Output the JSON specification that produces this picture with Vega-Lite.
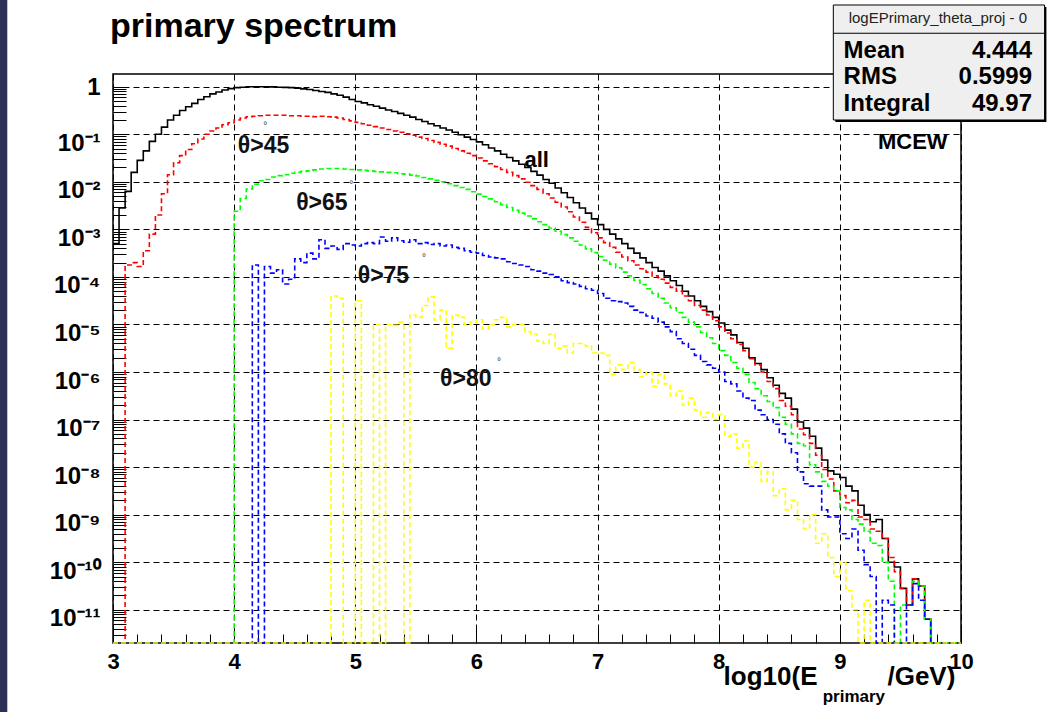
{
  "$schema": "https://vega.github.io/schema/vega-lite/v6.json",
  "autosize": "none",
  "width": 848,
  "height": 569,
  "padding": {"left": 113, "top": 74, "right": 93, "bottom": 69},
  "background": "white",
  "config": {
    "view": {"stroke": "black", "strokeWidth": 1.5},
    "axis": {"labelOverlap": false, "labelFlush": false, "labelBound": false, "labelFont": "Liberation Sans", "labelFontWeight": "bold", "labelColor": "black", "domain": false, "tickColor": "black", "tickWidth": 1, "gridColor": "black", "gridDash": [6, 4], "gridWidth": 1, "title": null}
  },
  "resolve": {"axis": {"x": "independent", "y": "independent"}},
  "datasets": {
    "all": [
      {"x":3.00,"v":5.0e-4},{"x":3.05,"v":2.82e-3},{"x":3.10,"v":6.3e-3},{"x":3.15,"v":1.58e-2},{"x":3.20,"v":2.82e-2},{"x":3.25,"v":4.47e-2},{"x":3.30,"v":7.08e-2},{"x":3.35,"v":0.1},{"x":3.40,"v":0.141},{"x":3.45,"v":0.2},{"x":3.50,"v":0.251},{"x":3.55,"v":0.316},{"x":3.60,"v":0.38},{"x":3.65,"v":0.447},{"x":3.70,"v":0.537},{"x":3.75,"v":0.617},{"x":3.80,"v":0.708},{"x":3.85,"v":0.776},{"x":3.90,"v":0.851},{"x":3.95,"v":0.912},
      {"x":4.00,"v":0.955},{"x":4.05,"v":0.977},{"x":4.10,"v":1.0},{"x":4.15,"v":1.0},{"x":4.20,"v":1.0},{"x":4.25,"v":0.995},{"x":4.30,"v":0.99},{"x":4.35,"v":0.977},{"x":4.40,"v":0.966},{"x":4.45,"v":0.955},{"x":4.50,"v":0.933},{"x":4.55,"v":0.902},{"x":4.60,"v":0.871},{"x":4.65,"v":0.832},{"x":4.70,"v":0.794},{"x":4.75,"v":0.759},{"x":4.80,"v":0.708},{"x":4.85,"v":0.661},{"x":4.90,"v":0.603},{"x":4.95,"v":0.537},
      {"x":5.00,"v":0.49},{"x":5.05,"v":0.457},{"x":5.10,"v":0.417},{"x":5.15,"v":0.389},{"x":5.20,"v":0.355},{"x":5.25,"v":0.324},{"x":5.30,"v":0.302},{"x":5.35,"v":0.275},{"x":5.40,"v":0.251},{"x":5.45,"v":0.229},{"x":5.50,"v":0.204},{"x":5.55,"v":0.186},{"x":5.60,"v":0.166},{"x":5.65,"v":0.151},{"x":5.70,"v":0.135},{"x":5.75,"v":0.123},{"x":5.80,"v":0.11},{"x":5.85,"v":0.0977},{"x":5.90,"v":0.0871},{"x":5.95,"v":0.0776},
      {"x":6.00,"v":0.0692},{"x":6.05,"v":0.0603},{"x":6.10,"v":0.0513},{"x":6.15,"v":0.0447},{"x":6.20,"v":0.038},{"x":6.25,"v":0.0324},{"x":6.30,"v":0.0275},{"x":6.35,"v":0.0234},{"x":6.40,"v":0.02},{"x":6.45,"v":0.0166},{"x":6.50,"v":0.0138},{"x":6.55,"v":0.0112},{"x":6.60,"v":0.00933},{"x":6.65,"v":0.00741},{"x":6.70,"v":0.00589},{"x":6.75,"v":0.00468},{"x":6.80,"v":0.00363},{"x":6.85,"v":0.00282},{"x":6.90,"v":0.00219},{"x":6.95,"v":0.00166},
      {"x":7.00,"v":0.00126},{"x":7.05,"v":0.001},{"x":7.10,"v":7.94e-4},{"x":7.15,"v":6.31e-4},{"x":7.20,"v":5.01e-4},{"x":7.25,"v":3.98e-4},{"x":7.30,"v":3.16e-4},{"x":7.35,"v":2.51e-4},{"x":7.40,"v":2.0e-4},{"x":7.45,"v":1.58e-4},{"x":7.50,"v":1.32e-4},{"x":7.55,"v":1.05e-4},{"x":7.60,"v":8.32e-5},{"x":7.65,"v":6.61e-5},{"x":7.70,"v":5.01e-5},{"x":7.75,"v":3.98e-5},{"x":7.80,"v":3.16e-5},{"x":7.85,"v":2.4e-5},{"x":7.90,"v":1.86e-5},{"x":7.95,"v":1.41e-5},
      {"x":8.00,"v":1.07e-5},{"x":8.05,"v":7.59e-6},{"x":8.10,"v":6.03e-6},{"x":8.15,"v":4.17e-6},{"x":8.20,"v":3.16e-6},{"x":8.25,"v":2.0e-6},{"x":8.30,"v":1.51e-6},{"x":8.35,"v":1.12e-6},{"x":8.40,"v":7.59e-7},{"x":8.45,"v":5.25e-7},{"x":8.50,"v":3.55e-7},{"x":8.55,"v":2.82e-7},{"x":8.60,"v":1.66e-7},{"x":8.65,"v":8.91e-8},{"x":8.70,"v":6.61e-8},{"x":8.75,"v":4.47e-8},{"x":8.80,"v":2.51e-8},{"x":8.85,"v":1.41e-8},{"x":8.90,"v":8.32e-9},{"x":8.95,"v":7.08e-9},
      {"x":9.00,"v":6.03e-9},{"x":9.05,"v":3.98e-9},{"x":9.10,"v":3.16e-9},{"x":9.15,"v":1.58e-9},{"x":9.20,"v":1.0e-9},{"x":9.25,"v":7.08e-10},{"x":9.30,"v":7.94e-10},{"x":9.35,"v":3.16e-10},{"x":9.40,"v":1.0e-10},{"x":9.45,"v":7.94e-11},{"x":9.50,"v":2.82e-11},{"x":9.55,"v":1.26e-11},{"x":9.60,"v":4.47e-11},{"x":9.65,"v":3.16e-11},{"x":9.70,"v":6.31e-12},{"x":9.75,"v":2e-12},{"x":10.0,"v":2e-12}
    ],
    "t45": [
      {"x":3.00,"v":2e-12},{"x":3.10,"v":1.78e-4},{"x":3.15,"v":2.0e-4},{"x":3.20,"v":1.66e-4},{"x":3.25,"v":3.55e-4},{"x":3.30,"v":7.94e-4},{"x":3.35,"v":2.0e-3},{"x":3.40,"v":5.62e-3},{"x":3.45,"v":1.41e-2},{"x":3.50,"v":2.51e-2},{"x":3.55,"v":3.55e-2},{"x":3.60,"v":4.79e-2},{"x":3.65,"v":6.31e-2},{"x":3.70,"v":7.94e-2},{"x":3.75,"v":0.1},{"x":3.80,"v":0.117},{"x":3.85,"v":0.135},{"x":3.90,"v":0.158},{"x":3.95,"v":0.174},
      {"x":4.00,"v":0.2},{"x":4.05,"v":0.219},{"x":4.10,"v":0.234},{"x":4.15,"v":0.24},{"x":4.20,"v":0.245},{"x":4.25,"v":0.251},{"x":4.30,"v":0.251},{"x":4.35,"v":0.251},{"x":4.40,"v":0.251},{"x":4.45,"v":0.245},{"x":4.50,"v":0.245},{"x":4.55,"v":0.24},{"x":4.60,"v":0.24},{"x":4.65,"v":0.234},{"x":4.70,"v":0.24},{"x":4.75,"v":0.234},{"x":4.80,"v":0.229},{"x":4.85,"v":0.219},{"x":4.90,"v":0.204},{"x":4.95,"v":0.191},
      {"x":5.00,"v":0.178},{"x":5.05,"v":0.166},{"x":5.10,"v":0.155},{"x":5.15,"v":0.145},{"x":5.20,"v":0.135},{"x":5.25,"v":0.126},{"x":5.30,"v":0.117},{"x":5.35,"v":0.11},{"x":5.40,"v":0.102},{"x":5.45,"v":0.0955},{"x":5.50,"v":0.0871},{"x":5.55,"v":0.0813},{"x":5.60,"v":0.0741},{"x":5.65,"v":0.0676},{"x":5.70,"v":0.0617},{"x":5.75,"v":0.0562},{"x":5.80,"v":0.0501},{"x":5.85,"v":0.0447},{"x":5.90,"v":0.0398},{"x":5.95,"v":0.0355},
      {"x":6.00,"v":0.0316},{"x":6.05,"v":0.0275},{"x":6.10,"v":0.024},{"x":6.15,"v":0.0209},{"x":6.20,"v":0.0182},{"x":6.25,"v":0.0158},{"x":6.30,"v":0.0135},{"x":6.35,"v":0.0115},{"x":6.40,"v":0.00977},{"x":6.45,"v":0.00832},{"x":6.50,"v":0.00692},{"x":6.55,"v":0.00562},{"x":6.60,"v":0.00457},{"x":6.65,"v":0.00372},{"x":6.70,"v":0.00295},{"x":6.75,"v":0.00234},{"x":6.80,"v":0.00182},{"x":6.85,"v":0.00141},{"x":6.90,"v":0.0011},{"x":6.95,"v":8.51e-4},
      {"x":7.00,"v":6.61e-4},{"x":7.05,"v":5.25e-4},{"x":7.10,"v":4.17e-4},{"x":7.15,"v":3.31e-4},{"x":7.20,"v":2.63e-4},{"x":7.25,"v":2.19e-4},{"x":7.30,"v":1.78e-4},{"x":7.35,"v":1.48e-4},{"x":7.40,"v":1.26e-4},{"x":7.45,"v":1.05e-4},{"x":7.50,"v":8.91e-5},{"x":7.55,"v":7.41e-5},{"x":7.60,"v":6.03e-5},{"x":7.65,"v":5.01e-5},{"x":7.70,"v":3.98e-5},{"x":7.75,"v":3.16e-5},{"x":7.80,"v":2.51e-5},{"x":7.85,"v":2.0e-5},{"x":7.90,"v":1.58e-5},{"x":7.95,"v":1.2e-5},
      {"x":8.00,"v":8.91e-6},{"x":8.05,"v":6.61e-6},{"x":8.10,"v":5.01e-6},{"x":8.15,"v":3.8e-6},{"x":8.20,"v":2.82e-6},{"x":8.25,"v":1.91e-6},{"x":8.30,"v":1.41e-6},{"x":8.35,"v":1.0e-6},{"x":8.40,"v":6.31e-7},{"x":8.45,"v":4.47e-7},{"x":8.50,"v":2.51e-7},{"x":8.55,"v":1.91e-7},{"x":8.60,"v":1.26e-7},{"x":8.65,"v":6.31e-8},{"x":8.70,"v":4.79e-8},{"x":8.75,"v":3.16e-8},{"x":8.80,"v":1.78e-8},{"x":8.85,"v":8.91e-9},{"x":8.90,"v":5.62e-9},{"x":8.95,"v":3.16e-9},
      {"x":9.00,"v":2.51e-9},{"x":9.05,"v":1.78e-9},{"x":9.10,"v":2.0e-9},{"x":9.15,"v":8.91e-10},{"x":9.20,"v":7.94e-10},{"x":9.25,"v":5.01e-10},{"x":9.30,"v":4.47e-10},{"x":9.35,"v":3.16e-10},{"x":9.40,"v":1.26e-10},{"x":9.45,"v":6.31e-11},{"x":9.50,"v":2.82e-11},{"x":9.55,"v":1.26e-11},{"x":9.60,"v":4.47e-11},{"x":9.65,"v":3.16e-11},{"x":9.70,"v":6.31e-12},{"x":9.75,"v":2e-12},{"x":10.0,"v":2e-12}
    ],
    "t65": [
      {"x":3.00,"v":2e-12},{"x":4.00,"v":2.4e-3},{"x":4.05,"v":4.47e-3},{"x":4.10,"v":7.08e-3},{"x":4.15,"v":8.91e-3},{"x":4.20,"v":1.05e-2},{"x":4.25,"v":1.12e-2},{"x":4.30,"v":1.26e-2},{"x":4.35,"v":1.35e-2},{"x":4.40,"v":1.41e-2},{"x":4.45,"v":1.51e-2},{"x":4.50,"v":1.58e-2},{"x":4.55,"v":1.66e-2},{"x":4.60,"v":1.7e-2},{"x":4.65,"v":1.78e-2},{"x":4.70,"v":1.86e-2},{"x":4.75,"v":1.91e-2},{"x":4.80,"v":1.91e-2},{"x":4.85,"v":1.91e-2},{"x":4.90,"v":1.86e-2},{"x":4.95,"v":1.82e-2},
      {"x":5.00,"v":1.78e-2},{"x":5.05,"v":1.74e-2},{"x":5.10,"v":1.7e-2},{"x":5.15,"v":1.66e-2},{"x":5.20,"v":1.62e-2},{"x":5.25,"v":1.58e-2},{"x":5.30,"v":1.55e-2},{"x":5.35,"v":1.48e-2},{"x":5.40,"v":1.45e-2},{"x":5.45,"v":1.38e-2},{"x":5.50,"v":1.32e-2},{"x":5.55,"v":1.23e-2},{"x":5.60,"v":1.15e-2},{"x":5.65,"v":1.07e-2},{"x":5.70,"v":1.0e-2},{"x":5.75,"v":9.12e-3},{"x":5.80,"v":8.32e-3},{"x":5.85,"v":7.59e-3},{"x":5.90,"v":6.92e-3},{"x":5.95,"v":6.17e-3},
      {"x":6.00,"v":5.5e-3},{"x":6.05,"v":4.9e-3},{"x":6.10,"v":4.37e-3},{"x":6.15,"v":3.8e-3},{"x":6.20,"v":3.31e-3},{"x":6.25,"v":2.88e-3},{"x":6.30,"v":2.51e-3},{"x":6.35,"v":2.19e-3},{"x":6.40,"v":1.91e-3},{"x":6.45,"v":1.66e-3},{"x":6.50,"v":1.45e-3},{"x":6.55,"v":1.26e-3},{"x":6.60,"v":1.07e-3},{"x":6.65,"v":9.12e-4},{"x":6.70,"v":7.76e-4},{"x":6.75,"v":6.61e-4},{"x":6.80,"v":5.62e-4},{"x":6.85,"v":4.68e-4},{"x":6.90,"v":3.89e-4},{"x":6.95,"v":3.24e-4},
      {"x":7.00,"v":2.69e-4},{"x":7.05,"v":2.24e-4},{"x":7.10,"v":1.86e-4},{"x":7.15,"v":1.55e-4},{"x":7.20,"v":1.26e-4},{"x":7.25,"v":1.05e-4},{"x":7.30,"v":8.51e-5},{"x":7.35,"v":6.92e-5},{"x":7.40,"v":5.62e-5},{"x":7.45,"v":4.47e-5},{"x":7.50,"v":3.55e-5},{"x":7.55,"v":2.82e-5},{"x":7.60,"v":2.24e-5},{"x":7.65,"v":1.78e-5},{"x":7.70,"v":1.41e-5},{"x":7.75,"v":1.12e-5},{"x":7.80,"v":8.91e-6},{"x":7.85,"v":6.76e-6},{"x":7.90,"v":5.25e-6},{"x":7.95,"v":3.98e-6},
      {"x":8.00,"v":2.82e-6},{"x":8.05,"v":2.24e-6},{"x":8.10,"v":1.58e-6},{"x":8.15,"v":1.2e-6},{"x":8.20,"v":8.91e-7},{"x":8.25,"v":6.03e-7},{"x":8.30,"v":4.47e-7},{"x":8.35,"v":3.16e-7},{"x":8.40,"v":2.4e-7},{"x":8.45,"v":1.78e-7},{"x":8.50,"v":1.12e-7},{"x":8.55,"v":7.94e-8},{"x":8.60,"v":5.01e-8},{"x":8.65,"v":3.16e-8},{"x":8.70,"v":2.82e-8},{"x":8.75,"v":1.12e-8},{"x":8.80,"v":7.94e-9},{"x":8.85,"v":5.01e-9},{"x":8.90,"v":3.98e-9},{"x":8.95,"v":3.16e-9},
      {"x":9.00,"v":1.41e-9},{"x":9.05,"v":1.26e-9},{"x":9.10,"v":7.94e-10},{"x":9.15,"v":6.31e-10},{"x":9.20,"v":4.47e-10},{"x":9.25,"v":2.51e-10},{"x":9.30,"v":2.24e-10},{"x":9.35,"v":1.0e-10},{"x":9.40,"v":3.98e-11},{"x":9.45,"v":2e-12},{"x":9.50,"v":1.26e-11},{"x":9.55,"v":1.26e-11},{"x":9.60,"v":3.98e-11},{"x":9.65,"v":3.16e-11},{"x":9.70,"v":6.31e-12},{"x":9.75,"v":2e-12},{"x":10.0,"v":2e-12}
    ],
    "t75": [
      {"x":3.00,"v":2e-12},{"x":4.15,"v":1.78e-4},{"x":4.20,"v":2e-12},{"x":4.25,"v":1.66e-4},{"x":4.30,"v":1.2e-4},{"x":4.35,"v":1.41e-4},{"x":4.40,"v":7.08e-5},{"x":4.45,"v":8.91e-5},{"x":4.50,"v":2.4e-4},{"x":4.55,"v":2.0e-4},{"x":4.60,"v":3.16e-4},{"x":4.65,"v":2.4e-4},{"x":4.70,"v":6.03e-4},{"x":4.75,"v":3.98e-4},{"x":4.80,"v":4.47e-4},{"x":4.85,"v":3.8e-4},{"x":4.90,"v":5.01e-4},{"x":4.95,"v":4.68e-4},
      {"x":5.00,"v":4.47e-4},{"x":5.05,"v":5.01e-4},{"x":5.10,"v":5.25e-4},{"x":5.15,"v":5.01e-4},{"x":5.20,"v":6.92e-4},{"x":5.25,"v":5.62e-4},{"x":5.30,"v":6.61e-4},{"x":5.35,"v":5.75e-4},{"x":5.40,"v":5.37e-4},{"x":5.45,"v":6.03e-4},{"x":5.50,"v":5.01e-4},{"x":5.55,"v":5.25e-4},{"x":5.60,"v":4.79e-4},{"x":5.65,"v":5.01e-4},{"x":5.70,"v":4.47e-4},{"x":5.75,"v":4.68e-4},{"x":5.80,"v":4.17e-4},{"x":5.85,"v":3.98e-4},{"x":5.90,"v":3.55e-4},{"x":5.95,"v":3.31e-4},
      {"x":6.00,"v":3.16e-4},{"x":6.05,"v":2.82e-4},{"x":6.10,"v":2.63e-4},{"x":6.15,"v":2.51e-4},{"x":6.20,"v":2.4e-4},{"x":6.25,"v":2.09e-4},{"x":6.30,"v":1.91e-4},{"x":6.35,"v":1.78e-4},{"x":6.40,"v":1.66e-4},{"x":6.45,"v":1.41e-4},{"x":6.50,"v":1.32e-4},{"x":6.55,"v":1.2e-4},{"x":6.60,"v":1.12e-4},{"x":6.65,"v":1.0e-4},{"x":6.70,"v":8.32e-5},{"x":6.75,"v":7.59e-5},{"x":6.80,"v":7.08e-5},{"x":6.85,"v":6.31e-5},{"x":6.90,"v":5.62e-5},{"x":6.95,"v":5.25e-5},
      {"x":7.00,"v":4.47e-5},{"x":7.05,"v":3.55e-5},{"x":7.10,"v":3.16e-5},{"x":7.15,"v":3.02e-5},{"x":7.20,"v":2.82e-5},{"x":7.25,"v":2.4e-5},{"x":7.30,"v":2.0e-5},{"x":7.35,"v":1.78e-5},{"x":7.40,"v":1.51e-5},{"x":7.45,"v":1.35e-5},{"x":7.50,"v":1.12e-5},{"x":7.55,"v":8.91e-6},{"x":7.60,"v":7.08e-6},{"x":7.65,"v":5.01e-6},{"x":7.70,"v":3.98e-6},{"x":7.75,"v":3.02e-6},{"x":7.80,"v":2.24e-6},{"x":7.85,"v":1.66e-6},{"x":7.90,"v":1.41e-6},{"x":7.95,"v":1.2e-6},
      {"x":8.00,"v":1.0e-6},{"x":8.05,"v":6.31e-7},{"x":8.10,"v":5.62e-7},{"x":8.15,"v":3.98e-7},{"x":8.20,"v":2.82e-7},{"x":8.25,"v":2.51e-7},{"x":8.30,"v":1.58e-7},{"x":8.35,"v":1.26e-7},{"x":8.40,"v":1.0e-7},{"x":8.45,"v":7.94e-8},{"x":8.50,"v":5.01e-8},{"x":8.55,"v":3.16e-8},{"x":8.60,"v":2.0e-8},{"x":8.65,"v":7.94e-9},{"x":8.70,"v":4.47e-9},{"x":8.75,"v":3.98e-9},{"x":8.80,"v":3.98e-9},{"x":8.85,"v":1.26e-9},{"x":8.90,"v":8.91e-10},{"x":8.95,"v":8.91e-10},
      {"x":9.00,"v":3.98e-10},{"x":9.05,"v":3.16e-10},{"x":9.10,"v":5.01e-10},{"x":9.15,"v":1.78e-10},{"x":9.20,"v":8.91e-11},{"x":9.25,"v":5.01e-11},{"x":9.30,"v":2e-12},{"x":9.35,"v":1.58e-11},{"x":9.40,"v":1.26e-11},{"x":9.45,"v":2e-12},{"x":9.55,"v":1.26e-11},{"x":9.60,"v":3.55e-11},{"x":9.65,"v":1.58e-11},{"x":9.70,"v":6.31e-12},{"x":9.75,"v":2e-12},{"x":10.0,"v":2e-12}
    ],
    "t80": [
      {"x":3.00,"v":2e-12},{"x":4.80,"v":3.98e-5},{"x":4.85,"v":3.55e-5},{"x":4.90,"v":2e-12},{"x":5.00,"v":3.16e-5},{"x":5.05,"v":2e-12},{"x":5.15,"v":1.0e-5},{"x":5.20,"v":2e-12},{"x":5.25,"v":1.0e-5},{"x":5.30,"v":9.55e-6},{"x":5.35,"v":1.12e-5},{"x":5.40,"v":2e-12},{"x":5.45,"v":1.58e-5},{"x":5.50,"v":1.41e-5},{"x":5.55,"v":2.51e-5},{"x":5.60,"v":3.8e-5},{"x":5.65,"v":1.26e-5},{"x":5.70,"v":2.0e-5},{"x":5.75,"v":3.16e-6},{"x":5.80,"v":1.58e-5},{"x":5.85,"v":1.41e-5},{"x":5.90,"v":1.0e-5},{"x":5.95,"v":1.12e-5},
      {"x":6.00,"v":1.26e-5},{"x":6.05,"v":7.94e-6},{"x":6.10,"v":1.0e-5},{"x":6.15,"v":1.26e-5},{"x":6.20,"v":1.41e-5},{"x":6.25,"v":8.91e-6},{"x":6.30,"v":1.0e-5},{"x":6.35,"v":1.0e-5},{"x":6.40,"v":7.08e-6},{"x":6.45,"v":6.31e-6},{"x":6.50,"v":4.47e-6},{"x":6.55,"v":3.98e-6},{"x":6.60,"v":6.31e-6},{"x":6.65,"v":3.16e-6},{"x":6.70,"v":3.55e-6},{"x":6.75,"v":2.51e-6},{"x":6.80,"v":3.98e-6},{"x":6.85,"v":3.98e-6},{"x":6.90,"v":3.55e-6},{"x":6.95,"v":2.51e-6},
      {"x":7.00,"v":2.51e-6},{"x":7.05,"v":2.24e-6},{"x":7.10,"v":8.91e-7},{"x":7.15,"v":1.41e-6},{"x":7.20,"v":1.12e-6},{"x":7.25,"v":1.58e-6},{"x":7.30,"v":1.12e-6},{"x":7.35,"v":7.94e-7},{"x":7.40,"v":1.0e-6},{"x":7.45,"v":5.01e-7},{"x":7.50,"v":8.91e-7},{"x":7.55,"v":5.62e-7},{"x":7.60,"v":3.16e-7},{"x":7.65,"v":3.98e-7},{"x":7.70,"v":2.0e-7},{"x":7.75,"v":2.82e-7},{"x":7.80,"v":1.58e-7},{"x":7.85,"v":1.12e-7},{"x":7.90,"v":1.41e-7},{"x":7.95,"v":1.0e-7},
      {"x":8.00,"v":1.26e-7},{"x":8.05,"v":4.47e-8},{"x":8.10,"v":5.01e-8},{"x":8.15,"v":2.51e-8},{"x":8.20,"v":3.55e-8},{"x":8.25,"v":1.0e-8},{"x":8.30,"v":1.26e-8},{"x":8.35,"v":5.01e-9},{"x":8.40,"v":7.94e-9},{"x":8.45,"v":2.51e-9},{"x":8.50,"v":3.55e-9},{"x":8.55,"v":1.26e-9},{"x":8.60,"v":2.0e-9},{"x":8.65,"v":7.94e-10},{"x":8.70,"v":5.01e-10},{"x":8.75,"v":1.0e-9},{"x":8.80,"v":2.51e-10},{"x":8.85,"v":3.98e-10},{"x":8.90,"v":1.26e-10},{"x":8.95,"v":5.01e-11},
      {"x":9.00,"v":1.0e-10},{"x":9.05,"v":2.51e-11},{"x":9.10,"v":1.0e-11},{"x":9.15,"v":2e-12},{"x":9.20,"v":1.58e-11},{"x":9.25,"v":2e-12},{"x":10.0,"v":2e-12}
    ],
    "strip": [{"x1":2.05,"x2":2.1274,"y1":6.4e-14,"y2":73}],
    "title": [{"x":2.975,"y":11.1,"t":"primary spectrum"}],
    "thetas": [
      {"x":4.03,"y":0.058,"t":"θ>45"},
      {"x":4.512,"y":3.67e-3,"t":"θ>65"},
      {"x":5.02,"y":1.07e-4,"t":"θ>75"},
      {"x":5.70,"y":7.3e-7,"t":"θ>80"}
    ],
    "degrees": [
      {"x":4.24,"y":0.15,"t":"°"},
      {"x":4.95,"y":8.57e-3,"t":"°"},
      {"x":5.55,"y":2.5e-4,"t":"°"},
      {"x":6.17,"y":1.65e-6,"t":"°"}
    ],
    "tags": [
      {"x":6.498,"y":0.0287,"t":"all"},
      {"x":9.602,"y":0.0697,"t":"MCEW"}
    ],
    "xtitle": [
      {"x":8.04,"y":3.87e-13,"t":"log10(E"},
      {"x":9.393,"y":3.87e-13,"t":"/GeV)"}
    ],
    "xsub": [{"x":8.858,"y":1.47e-13,"t":"primary"}],
    "shadow": [{"x1":8.963,"x2":10.705,"y1":0.181,"y2":47.5}],
    "box": [{"x1":8.946,"x2":10.690,"y1":0.1995,"y2":52.3}],
    "sep": [{"x1":8.946,"x2":10.690,"y":13.3}],
    "boxtitle": [{"x":9.809,"y":27.4,"t":"logEPrimary_theta_proj - 0"}],
    "statnames": [
      {"x":9.031,"y":5.71,"t":"Mean"},
      {"x":9.031,"y":1.58,"t":"RMS"},
      {"x":9.031,"y":0.433,"t":"Integral"}
    ],
    "statvals": [
      {"x":10.586,"y":5.71,"t":"4.444"},
      {"x":10.586,"y":1.58,"t":"0.5999"},
      {"x":10.586,"y":0.433,"t":"49.97"}
    ]
  },
  "layer": [
    {
      "data": {"name": "all"},
      "mark": {"type": "line", "interpolate": "step-after", "stroke": "black", "strokeWidth": 1.6},
      "encoding": {
        "x": {
          "field": "x", "type": "quantitative", "title": null,
          "scale": {"domain": [3, 10], "nice": false, "zero": false},
          "axis": {
            "orient": "bottom",
            "values": [3, 4, 5, 6, 7, 8, 9, 10],
            "format": "d",
            "grid": true,
            "tickSize": -16,
            "labelPadding": 24,
            "labelFontSize": 22
          }
        },
        "y": {
          "field": "v", "type": "quantitative", "title": null,
          "scale": {"type": "log", "domain": [2e-12, 1.85], "nice": false},
          "axis": {
            "orient": "left",
            "values": [1e-11, 1e-10, 1e-9, 1e-8, 1e-7, 1e-6, 1e-5, 1e-4, 1e-3, 1e-2, 0.1, 1],
            "labelExpr": "round(log(datum.value)/LN10) == 0 ? '1' : '10⁻' + (-round(log(datum.value)/LN10) >= 10 ? '¹' + substring('⁰¹²³⁴⁵⁶⁷⁸⁹', -round(log(datum.value)/LN10) - 10, -round(log(datum.value)/LN10) - 9) : substring('⁰¹²³⁴⁵⁶⁷⁸⁹', -round(log(datum.value)/LN10), -round(log(datum.value)/LN10) + 1))",
            "grid": true,
            "tickSize": -13,
            "labelPadding": 26,
            "labelBaseline": "alphabetic",
            "labelOffset": {"condition": {"test": "datum.value > 0.5", "value": 8}, "value": 16},
            "labelFontSize": 24
          }
        }
      }
    },
    {
      "data": {"name": "t45"},
      "mark": {"type": "line", "interpolate": "step-after", "stroke": "#ff0000", "strokeWidth": 1.6, "strokeDash": [5, 3]},
      "encoding": {
        "x": {"field": "x", "type": "quantitative", "title": null,
          "axis": {"orient": "bottom", "values": [3.2,3.4,3.6,3.8,4.2,4.4,4.6,4.8,5.2,5.4,5.6,5.8,6.2,6.4,6.6,6.8,7.2,7.4,7.6,7.8,8.2,8.4,8.6,8.8,9.2,9.4,9.6,9.8], "labels": false, "grid": false, "tickSize": -9}},
        "y": {"field": "v", "type": "quantitative", "title": null,
          "axis": {"orient": "left", "values": [3e-12,4e-12,5e-12,6e-12,7e-12,8e-12,9e-12,
              2e-11,3e-11,4e-11,5e-11,6e-11,7e-11,8e-11,9e-11,
              2e-10,3e-10,4e-10,5e-10,6e-10,7e-10,8e-10,9e-10,
              2e-9,3e-9,4e-9,5e-9,6e-9,7e-9,8e-9,9e-9,
              2e-8,3e-8,4e-8,5e-8,6e-8,7e-8,8e-8,9e-8,
              2e-7,3e-7,4e-7,5e-7,6e-7,7e-7,8e-7,9e-7,
              2e-6,3e-6,4e-6,5e-6,6e-6,7e-6,8e-6,9e-6,
              2e-5,3e-5,4e-5,5e-5,6e-5,7e-5,8e-5,9e-5,
              2e-4,3e-4,4e-4,5e-4,6e-4,7e-4,8e-4,9e-4,
              2e-3,3e-3,4e-3,5e-3,6e-3,7e-3,8e-3,9e-3,
              2e-2,3e-2,4e-2,5e-2,6e-2,7e-2,8e-2,9e-2,
              0.2,0.3,0.4,0.5,0.6,0.7,0.8,0.9], "labels": false, "grid": false, "tickSize": -13}}
      }
    },
    {
      "data": {"name": "t65"},
      "mark": {"type": "line", "interpolate": "step-after", "stroke": "#00ff00", "strokeWidth": 1.6, "strokeDash": [5, 3]},
      "encoding": {"x": {"field": "x", "type": "quantitative", "axis": null}, "y": {"field": "v", "type": "quantitative", "axis": null}}
    },
    {
      "data": {"name": "t75"},
      "mark": {"type": "line", "interpolate": "step-after", "stroke": "#0000ff", "strokeWidth": 1.6, "strokeDash": [5, 3]},
      "encoding": {"x": {"field": "x", "type": "quantitative", "axis": null}, "y": {"field": "v", "type": "quantitative", "axis": null}}
    },
    {
      "data": {"name": "t80"},
      "mark": {"type": "line", "interpolate": "step-after", "stroke": "#ffff00", "strokeWidth": 1.6, "strokeDash": [5, 3]},
      "encoding": {"x": {"field": "x", "type": "quantitative", "axis": null}, "y": {"field": "v", "type": "quantitative", "axis": null}}
    },
    {
      "data": {"name": "strip"},
      "mark": {"type": "rect", "fill": "#2c2f56", "clip": false},
      "encoding": {
        "x": {"field": "x1", "type": "quantitative", "axis": null},
        "x2": {"field": "x2"},
        "y": {"field": "y1", "type": "quantitative", "axis": null},
        "y2": {"field": "y2"}
      }
    },
    {
      "data": {"name": "thetas"},
      "mark": {"type": "text", "align": "left", "baseline": "middle", "font": "Liberation Sans", "fontWeight": "bold", "fontSize": 23, "fill": "#111111"},
      "encoding": {"x": {"field": "x", "type": "quantitative", "axis": null}, "y": {"field": "y", "type": "quantitative", "axis": null}, "text": {"field": "t"}}
    },
    {
      "data": {"name": "degrees"},
      "mark": {"type": "text", "align": "left", "baseline": "middle", "font": "Liberation Sans", "fontSize": 10, "fill": "#333333"},
      "encoding": {"x": {"field": "x", "type": "quantitative", "axis": null}, "y": {"field": "y", "type": "quantitative", "axis": null}, "text": {"field": "t"}}
    },
    {
      "data": {"name": "tags"},
      "mark": {"type": "text", "align": "center", "baseline": "middle", "font": "Liberation Sans", "fontWeight": "bold", "fontSize": 22, "fill": "black"},
      "encoding": {"x": {"field": "x", "type": "quantitative", "axis": null}, "y": {"field": "y", "type": "quantitative", "axis": null}, "text": {"field": "t"}}
    },
    {
      "data": {"name": "xtitle"},
      "mark": {"type": "text", "align": "left", "baseline": "middle", "font": "Liberation Sans", "fontWeight": "bold", "fontSize": 26, "fill": "black"},
      "encoding": {"x": {"field": "x", "type": "quantitative", "axis": null}, "y": {"field": "y", "type": "quantitative", "axis": null}, "text": {"field": "t"}}
    },
    {
      "data": {"name": "xsub"},
      "mark": {"type": "text", "align": "left", "baseline": "middle", "font": "Liberation Sans", "fontWeight": "bold", "fontSize": 17, "fill": "black"},
      "encoding": {"x": {"field": "x", "type": "quantitative", "axis": null}, "y": {"field": "y", "type": "quantitative", "axis": null}, "text": {"field": "t"}}
    },
    {
      "data": {"name": "title"},
      "mark": {"type": "text", "align": "left", "baseline": "alphabetic", "font": "Liberation Sans", "fontWeight": "bold", "fontSize": 34, "fill": "black"},
      "encoding": {"x": {"field": "x", "type": "quantitative", "axis": null}, "y": {"field": "y", "type": "quantitative", "axis": null}, "text": {"field": "t"}}
    },
    {
      "data": {"name": "shadow"},
      "mark": {"type": "rect", "fill": "black"},
      "encoding": {"x": {"field": "x1", "type": "quantitative", "axis": null}, "x2": {"field": "x2"}, "y": {"field": "y1", "type": "quantitative", "axis": null}, "y2": {"field": "y2"}}
    },
    {
      "data": {"name": "box"},
      "mark": {"type": "rect", "fill": "#efefef", "stroke": "black", "strokeWidth": 1},
      "encoding": {"x": {"field": "x1", "type": "quantitative", "axis": null}, "x2": {"field": "x2"}, "y": {"field": "y1", "type": "quantitative", "axis": null}, "y2": {"field": "y2"}}
    },
    {
      "data": {"name": "sep"},
      "mark": {"type": "rule", "stroke": "black", "strokeWidth": 1},
      "encoding": {"x": {"field": "x1", "type": "quantitative", "axis": null}, "x2": {"field": "x2"}, "y": {"field": "y", "type": "quantitative", "axis": null}}
    },
    {
      "data": {"name": "boxtitle"},
      "mark": {"type": "text", "align": "center", "baseline": "middle", "font": "Liberation Sans", "fontSize": 15, "fill": "#222222"},
      "encoding": {"x": {"field": "x", "type": "quantitative", "axis": null}, "y": {"field": "y", "type": "quantitative", "axis": null}, "text": {"field": "t"}}
    },
    {
      "data": {"name": "statnames"},
      "mark": {"type": "text", "align": "left", "baseline": "middle", "font": "Liberation Sans", "fontWeight": "bold", "fontSize": 24, "fill": "black"},
      "encoding": {"x": {"field": "x", "type": "quantitative", "axis": null}, "y": {"field": "y", "type": "quantitative", "axis": null}, "text": {"field": "t"}}
    },
    {
      "data": {"name": "statvals"},
      "mark": {"type": "text", "align": "right", "baseline": "middle", "font": "Liberation Sans", "fontWeight": "bold", "fontSize": 24, "fill": "black"},
      "encoding": {"x": {"field": "x", "type": "quantitative", "axis": null}, "y": {"field": "y", "type": "quantitative", "axis": null}, "text": {"field": "t"}}
    }
  ]
}
